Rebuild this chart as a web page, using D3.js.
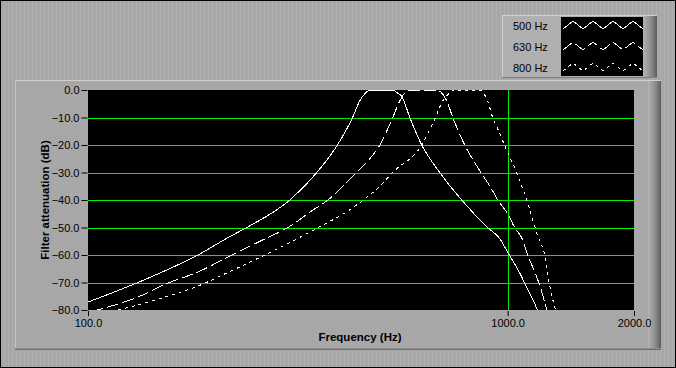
<!DOCTYPE html>
<html>
<head>
<meta charset="utf-8">
<script src="https://cdn.jsdelivr.net/npm/d3@7"></script>
<style>
  body { margin: 0; background: #a8a8a8; }
  svg { display: block; }
  text { font-family: "Liberation Sans", Arial, sans-serif; }
</style>
</head>
<body>
<svg id="chart" width="676" height="368"></svg>
<script>
// Filter responses (frequency in Hz, attenuation in dB)
const seriesNames = ["500 Hz", "630 Hz", "800 Hz"];

const freq500 = [100, 131.5, 182.7, 217.8, 239, 302.7, 351, 393, 427, 444, 456, 469, 532, 545, 559, 584.5, 624, 689, 777, 896, 957, 1000, 1068, 1116, 1172, 1182];
const db500   = [-77.1, -70, -60, -53.3, -50, -40, -30, -20, -10, -4, -1.5, 0, 0, -1, -2.2, -10, -20, -30, -40, -50, -54, -59, -66.5, -72.5, -79.3, -81];

const freq630 = [102, 131.5, 155.1, 182.7, 220, 261, 299.4, 343.4, 373, 427.5, 469.3, 496, 532.4, 553.3, 574.9, 594, 678, 700, 716, 740, 790, 844, 921, 947, 1000, 1039, 1086, 1116, 1159, 1192, 1245];
const db630   = [-80.5, -75.3, -70.2, -66.2, -60, -54.5, -50, -43.7, -40, -31.3, -25, -20, -10, -4, -0.4, 0, 0, -1.5, -4, -10, -20, -27.6, -36.7, -40, -45, -50, -54.5, -60, -66, -71, -81];

const freq800 = [118, 155.1, 182.7, 217.8, 264, 354, 420, 453, 496, 532, 624, 673, 700, 722, 740, 858, 879, 896, 921, 946, 985, 1050, 1110, 1179, 1225, 1259, 1306];
const db800   = [-80, -75, -71.3, -66, -60, -50, -43.6, -40, -35, -30, -20, -10, -4, -1.5, 0, 0, -1.5, -4, -10, -14, -20.4, -30, -40, -53, -60, -71, -81];

const yTicks = [0, -10, -20, -30, -40, -50, -60, -70, -80];
const xTicks = [100, 1000, 2000];
const yGrid = [-10, -20, -30, -40, -50, -60, -70];
const xGrid = [1000];

const series = [
  {name: seriesNames[0], f: freq500, db: db500, dash: null},
  {name: seriesNames[1], f: freq630, db: db630, dash: "12,4"},
  {name: seriesNames[2], f: freq800, db: db800, dash: "3,4"}
];

const svg = d3.select("#chart");
const gridColor = "#00f000";

// background textures
const defs = svg.append("defs");
const stripes = defs.append("pattern")
  .attr("id", "stripes").attr("width", 4).attr("height", 4)
  .attr("patternUnits", "userSpaceOnUse");
stripes.append("rect").attr("width", 4).attr("height", 4).attr("fill", "#a7a7a7");
stripes.append("rect").attr("width", 1).attr("height", 4).attr("fill", "#afafaf");
const checks = defs.append("pattern")
  .attr("id", "checks").attr("width", 2).attr("height", 2)
  .attr("patternUnits", "userSpaceOnUse");
checks.append("rect").attr("width", 2).attr("height", 2).attr("fill", "#a9a9a9");
checks.append("rect").attr("width", 1).attr("height", 1).attr("fill", "#a3a3a3");

const shade = defs.append("linearGradient").attr("id", "shade");
shade.append("stop").attr("offset", "0%").attr("stop-color", "#b4b4b4");
shade.append("stop").attr("offset", "60%").attr("stop-color", "#8a8a8a");
shade.append("stop").attr("offset", "100%").attr("stop-color", "#5c5c5c");

svg.append("rect")
  .attr("x", 0.5).attr("y", 0.5).attr("width", 675).attr("height", 367)
  .attr("fill", "url(#stripes)").attr("stroke", "#000");

// graph panel with raised edges
svg.append("rect")
  .attr("x", 15).attr("y", 80).attr("width", 646).attr("height", 270)
  .attr("fill", "url(#checks)");
svg.append("rect")
  .attr("x", 648).attr("y", 80).attr("width", 13).attr("height", 270)
  .attr("fill", "url(#shade)");
svg.append("line").attr("x1", 15).attr("x2", 661).attr("y1", 80.5).attr("y2", 80.5)
  .attr("stroke", "#cfcfcf");
svg.append("line").attr("x1", 15.5).attr("x2", 15.5).attr("y1", 80).attr("y2", 350)
  .attr("stroke", "#c4c4c4");
svg.append("line").attr("x1", 15).attr("x2", 661).attr("y1", 349.5).attr("y2", 349.5)
  .attr("stroke", "#6e6e6e");
svg.append("line").attr("x1", 15).attr("x2", 661).attr("y1", 348.5).attr("y2", 348.5)
  .attr("stroke", "#8c8c8c");

// scales
const x = d3.scaleLog().domain([100, 2000]).range([88, 634]);
const y = d3.scaleLinear().domain([-80, 0]).range([310, 90]);

// plot area
svg.append("rect")
  .attr("x", x(100)).attr("y", y(0))
  .attr("width", x(2000) - x(100)).attr("height", y(-80) - y(0))
  .attr("fill", "#000");

defs.append("clipPath").attr("id", "plotClip")
  .append("rect")
  .attr("x", x(100)).attr("y", y(0))
  .attr("width", x(2000) - x(100)).attr("height", y(-80) - y(0));

const grid = svg.append("g").attr("shape-rendering", "crispEdges");
grid.selectAll("line.h").data(yGrid).enter().append("line")
  .attr("class", "h")
  .attr("x1", x(100)).attr("x2", x(2000))
  .attr("y1", d => Math.round(y(d)) + 0.5).attr("y2", d => Math.round(y(d)) + 0.5)
  .attr("stroke", gridColor);
grid.selectAll("line.v").data(xGrid).enter().append("line")
  .attr("class", "v")
  .attr("y1", y(0)).attr("y2", y(-80))
  .attr("x1", d => Math.round(x(d)) + 0.5).attr("x2", d => Math.round(x(d)) + 0.5)
  .attr("stroke", gridColor);

// axes
const yAxis = d3.axisLeft(y).tickValues(yTicks).tickSize(6).tickPadding(2)
  .tickFormat(d3.format(".1f"));
const gy = svg.append("g").attr("transform", `translate(${x(100) - 0.5},0)`).call(yAxis);
gy.select(".domain").remove();
gy.selectAll("line").attr("stroke", "#000");
gy.selectAll("text").attr("font-size", "11px").attr("fill", "#000")
  .attr("font-family", "Liberation Sans, Arial, sans-serif");

const xAxis = d3.axisBottom(x).tickValues(xTicks).tickSize(5).tickPadding(3)
  .tickFormat(d3.format(".1f"));
const gx = svg.append("g").attr("transform", `translate(0,${y(-80) + 1})`).call(xAxis);
gx.select(".domain").remove();
gx.selectAll("line").attr("stroke", "#000");
gx.selectAll("text").attr("font-size", "11px").attr("fill", "#000")
  .attr("font-family", "Liberation Sans, Arial, sans-serif");

svg.append("text")
  .attr("x", 360).attr("y", 341)
  .attr("text-anchor", "middle")
  .attr("font-size", "11.5px").attr("font-weight", "bold")
  .text("Frequency (Hz)");

svg.append("text")
  .attr("transform", "translate(49,200) rotate(-90)")
  .attr("text-anchor", "middle")
  .attr("font-size", "11.5px").attr("font-weight", "bold")
  .text("Filter attenuation (dB)");

// curves
const line = d3.line()
  .x(d => x(d[0]))
  .y(d => y(d[1]))
  .curve(d3.curveMonotoneX);

const curves = svg.append("g").attr("clip-path", "url(#plotClip)");
series.forEach(s => {
  curves.append("path")
    .datum(d3.zip(s.f, s.db))
    .attr("d", line)
    .attr("fill", "none")
    .attr("stroke", "#fff")
    .attr("stroke-width", 1)
    .attr("shape-rendering", "crispEdges")
    .attr("stroke-dasharray", s.dash);
});

// legend
const legend = svg.append("g");
legend.append("rect")
  .attr("x", 502).attr("y", 15).attr("width", 155).attr("height", 63)
  .attr("fill", "#b0b0b0");
legend.append("rect")
  .attr("x", 643).attr("y", 15).attr("width", 14).attr("height", 63)
  .attr("fill", "url(#shade)");
legend.append("line").attr("x1", 502).attr("x2", 657).attr("y1", 15.5).attr("y2", 15.5)
  .attr("stroke", "#d0d0d0");
legend.append("line").attr("x1", 502.5).attr("x2", 502.5).attr("y1", 15).attr("y2", 78)
  .attr("stroke", "#d0d0d0");
legend.append("line").attr("x1", 502).attr("x2", 657).attr("y1", 77.5).attr("y2", 77.5)
  .attr("stroke", "#7a7a7a");
legend.append("rect")
  .attr("x", 561).attr("y", 17).attr("width", 82).attr("height", 59)
  .attr("fill", "#000");

const rowTop = [21, 42, 63];
const zig = d3.line();
series.forEach((s, i) => {
  legend.append("text")
    .attr("x", 513).attr("y", rowTop[i] + 9)
    .attr("font-size", "11px").attr("fill", "#000")
    .text(s.name);
  const pts = [];
  for (let k = 0; k <= 8; k++) {
    pts.push([563 + k * 10, k % 2 ? rowTop[i] : rowTop[i] + 8]);
  }
  legend.append("path")
    .attr("d", zig(pts))
    .attr("fill", "none")
    .attr("stroke", "#fff")
    .attr("stroke-width", 1)
    .attr("shape-rendering", "crispEdges")
    .attr("stroke-dasharray", s.dash);
});
</script>
</body>
</html>
